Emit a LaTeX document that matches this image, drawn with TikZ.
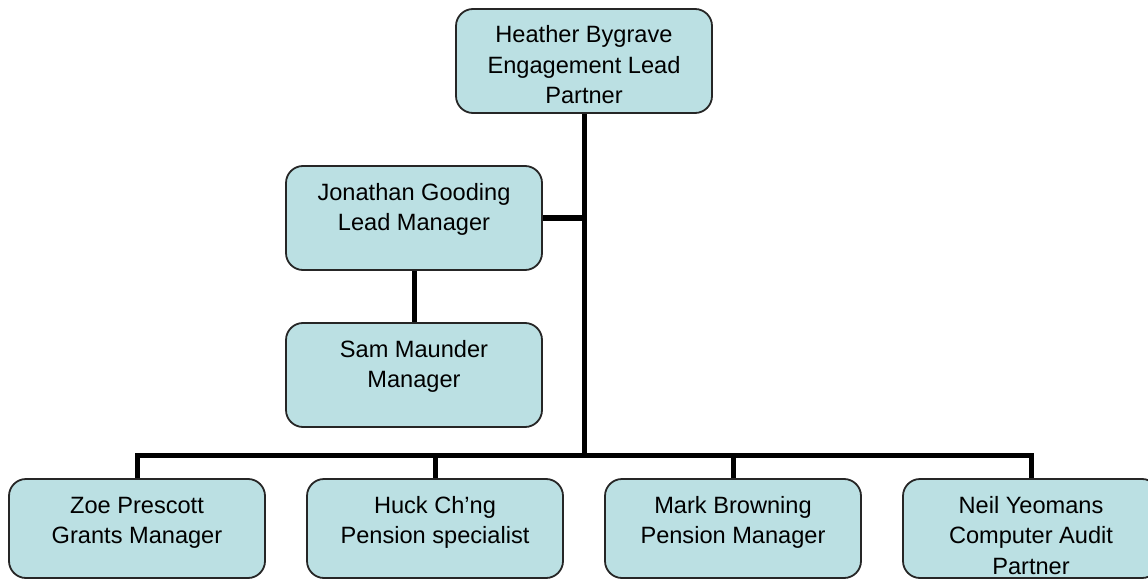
\documentclass[tikz,border=0pt]{standalone}
\usepackage{fontspec}
\setmainfont{Liberation Sans}
\definecolor{boxfill}{RGB}{187,224,227}
\newcommand{\boxtext}[2]{\parbox[c][#1pt][t]{256pt}{\centering\fontsize{23.6}{30.5}\selectfont\rule{0pt}{34pt}#2}}
\begin{document}
\begin{tikzpicture}[x=1pt,y=1pt,
  orgbox/.style={draw=black!85, line width=1.8pt, fill=boxfill, rounded corners=17pt, inner sep=0pt, minimum width=256pt},
  conn/.style={line width=5pt, black}]
\useasboundingbox (0,0) rectangle (1148,-580);
\node[orgbox] (heather) at (584,-61) {\boxtext{104}{Heather Bygrave\\Engagement Lead\\Partner}};
\node[orgbox] (jon) at (414,-218) {\boxtext{104}{Jonathan Gooding\\Lead Manager}};
\node[orgbox] (sam) at (414,-375) {\boxtext{104}{Sam Maunder\\Manager}};
\node[orgbox] (zoe) at (137,-528.5) {\boxtext{99}{Zoe Prescott\\Grants Manager}};
\node[orgbox] (huck) at (435,-528.5) {\boxtext{99}{Huck Ch’ng\\Pension specialist}};
\node[orgbox] (mark) at (733,-528.5) {\boxtext{99}{Mark Browning\\Pension Manager}};
\node[orgbox] (neil) at (1031,-528.5) {\boxtext{99}{Neil Yeomans\\Computer Audit\\Partner}};
\coordinate (bus) at (584,-455);
\draw[conn] (heather.south) -- (bus);
\draw[conn] (zoe.north) |- (bus);
\draw[conn] (neil.north) |- (bus);
\draw[conn] (huck.north) -- (huck.north |- bus);
\draw[conn] (mark.north) -- (mark.north |- bus);
\draw[conn] (jon.east) -- (jon.east -| heather.south);
\draw[conn] (jon.south) -- (sam.north);
\end{tikzpicture}
\end{document}
